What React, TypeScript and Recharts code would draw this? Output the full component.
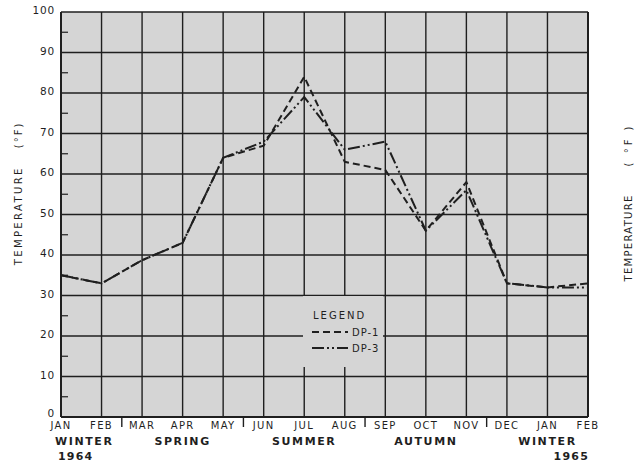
import React from 'react';
import { LineChart, Line, XAxis, YAxis, CartesianGrid, Legend } from 'recharts';

const months = ['JAN', 'FEB', 'MAR', 'APR', 'MAY', 'JUN', 'JUL', 'AUG', 'SEP', 'OCT', 'NOV', 'DEC', 'JAN', 'FEB'];
const seasons = ['WINTER', '', '', 'SPRING', '', '', 'SUMMER', '', '', 'AUTUMN', '', '', 'WINTER', ''];
const years = ['1964', '', '', '', '', '', '', '', '', '', '', '', '', '1965'];
const dp1 = [35, 33, 38.7, 43, 64, 67, 84, 63, 61, 46, 58, 33, 32, 33];
const dp3 = [35, 33, 38.7, 43, 64, 68, 79, 66, 68, 46, 56, 33, 32, 32];
const yMajor = [0, 10, 20, 30, 40, 50, 60, 70, 80, 90, 100];
const yMinor = [5, 15, 25, 35, 45, 55, 65, 75, 85, 95];
const seasonBreaks = [1.5, 4.5, 7.5, 10.5];
const yTitle = 'TEMPERATURE';

const ink = '#1f1f1f';
const paper = '#d5d5d5';

const series = [
  { key: 'dp1', name: 'DP-1', dash: '7 4' },
  { key: 'dp3', name: 'DP-3', dash: '12 3 2 3 2 3' },
];

const data = months.map((m, i) => ({ i, month: m, dp1: dp1[i], dp3: dp3[i] }));
const monthIdx = months.map((_, i) => i);
const xTicks = [...monthIdx, ...seasonBreaks].sort((a, b) => a - b);
const yTicks = [...yMajor, ...yMinor].sort((a, b) => a - b);

function MonthTick(props: any) {
  const { x, y, payload } = props;
  const v = payload.value as number;
  if (!Number.isInteger(v)) {
    // season separator
    return <line x1={x} x2={x} y1={y} y2={y + 10} stroke={ink} strokeWidth={1.4} />;
  }
  const first = v === 0;
  return (
    <g fill={ink}>
      <text x={x} y={y + 12} textAnchor="middle" fontSize={10} letterSpacing={1.3}>
        {months[v]}
      </text>
      {seasons[v] && (
        <text x={first ? x - 6 : x} y={y + 28} textAnchor={first ? 'start' : 'middle'} fontSize={11} fontWeight="bold" letterSpacing={1.6}>
          {seasons[v]}
        </text>
      )}
      {years[v] && (
        <text x={first ? x - 3 : x + 1} y={y + 43} textAnchor={first ? 'start' : 'end'} fontSize={11} fontWeight="bold" letterSpacing={1.2}>
          {years[v]}
        </text>
      )}
    </g>
  );
}

function tempTick(side: 'left' | 'right') {
  return (props: any) => {
    const { x, y, payload } = props;
    const v = payload.value as number;
    if (v % 10 !== 0) {
      // short inward tick at the 5s
      const ax = side === 'left' ? x + 6 : x - 3;
      const dir = side === 'left' ? 1 : -1;
      return <line x1={ax} x2={ax + dir * 7} y1={y} y2={y} stroke={ink} strokeWidth={1.2} />;
    }
    return (
      <text x={x} y={y} dy={v === 0 ? 0 : 2} textAnchor={side === 'left' ? 'end' : 'start'} fontSize={10.5} fill={ink} letterSpacing={0.8}>
        {v}
      </text>
    );
  };
}

function axisTitle(side: 'left' | 'right') {
  return (props: any) => {
    const vb = props.viewBox;
    const left = side === 'left';
    const cx = left ? vb.x + 22 : vb.x + vb.width - 11;
    const cy = vb.y + vb.height / 2 + (left ? -21 : -12);
    return (
      <text x={cx} y={cy} transform={`rotate(-90 ${cx} ${cy})`} textAnchor="middle" fontSize={10} fill={ink}>
        <tspan letterSpacing={left ? 2.4 : 1.3}>{yTitle}</tspan>
        <tspan dx={left ? 18 : 28} letterSpacing={left ? 2 : 3}>{left ? '(°F)' : '( °F )'}</tspan>
      </text>
    );
  };
}

function LegendBox() {
  return (
    <svg width={80} height={71} style={{ display: 'block', background: paper }}>
      <text x={10} y={23} fontSize={10} fill={ink} letterSpacing={2}>LEGEND</text>
      {series.map((s, k) => (
        <g key={s.key}>
          <line x1={9} x2={45} y1={36 + k * 16} y2={36 + k * 16} stroke={ink} strokeWidth={2} strokeDasharray={s.dash} />
          <text x={49} y={40 + k * 16} fontSize={10} fill={ink} letterSpacing={1}>{s.name}</text>
        </g>
      ))}
    </svg>
  );
}

export default function App() {
  return (
    <div style={{ position: 'absolute', left: 0, top: 0, background: '#fff', fontFamily: '"DejaVu Sans", sans-serif' }}>
      <LineChart width={643} height={463} data={data} margin={{ top: 12, right: 0, left: 0, bottom: 0 }}>
        <CartesianGrid xAxisId="m" yAxisId="l" stroke={ink} strokeWidth={1.4} fill={paper} fillOpacity={1}
          horizontalValues={yMajor} verticalValues={monthIdx} />
        <XAxis xAxisId="m" type="number" dataKey="i" domain={[0, 13]} ticks={xTicks} interval={0} height={46}
          tickLine={false} tickSize={0} tickMargin={0} tick={<MonthTick />} axisLine={{ stroke: ink, strokeWidth: 2 }} />
        <YAxis yAxisId="l" orientation="left" width={61} domain={[0, 100]} ticks={yTicks} interval={0}
          tickLine={false} tickSize={0} tickMargin={6} axisLine={{ stroke: ink, strokeWidth: 2 }}
          tick={tempTick('left')} label={{ content: axisTitle('left') }} />
        <YAxis yAxisId="r" orientation="right" width={55} domain={[0, 100]} ticks={yTicks} interval={0}
          tickLine={false} tickSize={0} tickMargin={3} axisLine={{ stroke: ink, strokeWidth: 2 }}
          tick={tempTick('right')} label={{ content: axisTitle('right') }} />
        {series.map((s) => (
          <Line key={s.key} xAxisId="m" yAxisId="l" type="linear" dataKey={s.key} name={s.name} stroke={ink}
            strokeWidth={2} strokeDasharray={s.dash} dot={false} isAnimationActive={false} />
        ))}
        <Legend layout="horizontal" verticalAlign="middle" align="center" content={<LegendBox />}
          wrapperStyle={{ position: 'absolute', left: 303, top: 296, width: 80, height: 71 }} />
      </LineChart>
    </div>
  );
}
